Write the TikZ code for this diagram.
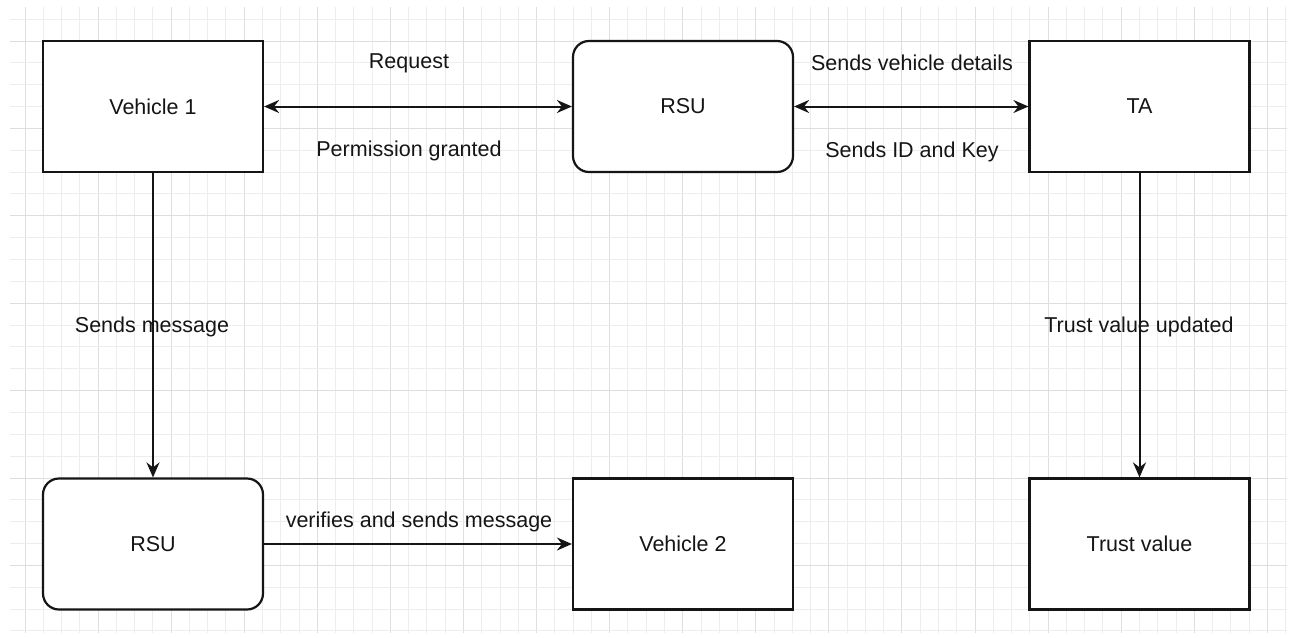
\documentclass[tikz,border=0pt]{standalone}
\usepackage{fontspec}
\setmainfont{Liberation Sans}
\usetikzlibrary{arrows.meta}
\definecolor{gridminor}{HTML}{EDEDED}
\definecolor{gridmajor}{HTML}{DEDEDE}
\definecolor{ink}{HTML}{151515}
\begin{document}
\begin{tikzpicture}[x=1pt,y=-1pt,
  box/.style={draw=ink,line width=2.2pt,fill=white,minimum width=220pt,minimum height=131pt,inner sep=0pt,font=\fontsize{21.5}{26}\selectfont,text=ink},
  roundbox/.style={box,rounded corners=16pt},
  lbl/.style={font=\fontsize{21.5}{26}\selectfont,text=ink,inner sep=0pt},
  conn/.style={draw=ink,line width=2pt,-{Stealth[length=15pt,width=13pt,inset=5pt]}},
  biconn/.style={draw=ink,line width=2pt,{Stealth[length=15pt,width=13pt,inset=5pt]}-{Stealth[length=15pt,width=13pt,inset=5pt]}}]
\useasboundingbox (0,0) rectangle (1292,637);
\fill[white] (0,0) rectangle (1292,637);
% grid
\foreach \k in {0,...,69}{
  \pgfmathtruncatemacro{\m}{mod(\k,4)}
  \ifnum\m=0 \def\gc{gridmajor}\else\def\gc{gridminor}\fi
  \draw[\gc,line width=1pt] ({25+\k*18.27},7) -- ({25+\k*18.27},633);
}
\foreach \j in {-1,...,27}{
  \pgfmathtruncatemacro{\m}{mod(\j+4,4)}
  \ifnum\m=0 \def\gc{gridmajor}\else\def\gc{gridminor}\fi
  \draw[\gc,line width=1pt] (10,{41+\j*21.85}) -- (1287,{41+\j*21.85});
}
% nodes
\node[box] (v1) at (153,106.5) {Vehicle 1};
\node[roundbox] (rsu1) at (683,106.5) {RSU};
\node[box] (ta) at (1139.5,106.5) {TA};
\node[roundbox] (rsu2) at (153,544) {RSU};
\node[box] (v2) at (683,544) {Vehicle 2};
\node[box] (tv) at (1139.5,544) {Trust value};
% connectors
\draw[biconn] (v1) -- (rsu1);
\draw[biconn] (rsu1) -- (ta);
\draw[conn] (v1) -- (rsu2);
\draw[conn] (ta) -- (tv);
\draw[conn] (rsu2) -- (v2);
% labels
\node[lbl] (l1) at (409,63) {Request};
\node[lbl] (l2) at (409,151) {Permission granted};
\node[lbl] (l3) at (912,63) {Sends vehicle details};
\node[lbl] (l4) at (912,152) {Sends ID and Key};
\node[lbl] (l5) at (152,327) {Sends message};
\node[lbl] (l6) at (1139,327) {Trust value updated};
\node[lbl] (l7) at (419,522) {verifies and sends message};
\end{tikzpicture}
\end{document}
